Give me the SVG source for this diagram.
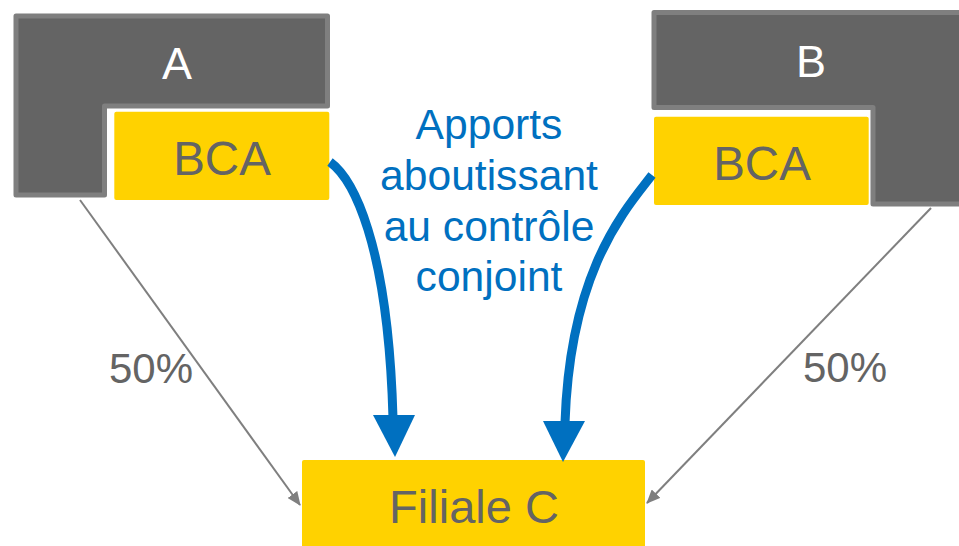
<svg xmlns="http://www.w3.org/2000/svg" width="959" height="546" viewBox="0 0 959 546">
  <style>
    .parent { fill: #646464; stroke: #7f7f7f; stroke-width: 5; stroke-linejoin: round; }
    .box { fill: #ffd200; }
    .lbl { font-family: "Liberation Sans", Arial, sans-serif; text-anchor: middle; }
    .white { fill: #ffffff; font-size: 45px; }
    .grey { fill: #646464; }
    .blue { fill: #0070c0; font-size: 42.6px; }
    .link { fill: none; stroke: #7f7f7f; stroke-width: 2; }
    .flow { fill: none; stroke: #0070c0; stroke-width: 9; }
    .head { fill: #0070c0; }
  </style>
  <defs>
    <marker id="tip" viewBox="0 0 14 12" refX="13" refY="6" markerWidth="14" markerHeight="12" markerUnits="userSpaceOnUse" orient="auto">
      <path d="M0,0 L14,6 L0,12 Z" fill="#7f7f7f"/>
    </marker>
  </defs>

  <rect width="959" height="546" fill="#ffffff"/>

  <!-- parent company A with its contributed business -->
  <g id="node-a">
    <path class="parent" d="M16,16 H327.5 V106 H104.5 V195 H16 Z"/>
    <text class="lbl white" x="177" y="79">A</text>
  </g>
  <g id="node-bca-a">
    <rect class="box" x="114.3" y="111.7" width="215" height="88.3" rx="2"/>
    <text class="lbl grey" x="222" y="175" font-size="47.5">BCA</text>
  </g>

  <!-- parent company B with its contributed business -->
  <g id="node-b">
    <path class="parent" d="M654,12.5 H965 V204 H873 V107.5 H654 Z"/>
    <text class="lbl white" x="811" y="77">B</text>
  </g>
  <g id="node-bca-b">
    <rect class="box" x="654" y="116.7" width="214.7" height="88.3" rx="2"/>
    <text class="lbl grey" x="762" y="180" font-size="47.5">BCA</text>
  </g>

  <!-- joint subsidiary -->
  <g id="node-filiale">
    <rect class="box" x="302" y="460" width="343" height="95" rx="2"/>
    <text class="lbl grey" x="474" y="523" font-size="47">Filiale C</text>
  </g>

  <!-- central caption -->
  <g id="caption">
    <text class="lbl blue" x="489" y="139">Apports</text>
    <text class="lbl blue" x="489" y="190">aboutissant</text>
    <text class="lbl blue" x="489" y="241">au contrôle</text>
    <text class="lbl blue" x="489" y="291">conjoint</text>
  </g>

  <g id="connectors">
    <!-- shareholdings -->
    <line class="link" x1="80" y1="200" x2="300" y2="505" marker-end="url(#tip)"/>
    <line class="link" x1="931" y1="208" x2="647" y2="503" marker-end="url(#tip)"/>
    <text class="lbl grey" x="151" y="383" font-size="42">50%</text>
    <text class="lbl grey" x="845" y="382" font-size="42">50%</text>

    <!-- contributions -->
    <path class="flow" d="M330,162 C352,178 388,240 393,418"/>
    <polygon class="head" points="373,415 415,415 395,457"/>
    <path class="flow" d="M652,175 C625,210 570,270 565,423"/>
    <polygon class="head" points="543,421 585,421 563,462"/>
  </g>
</svg>
